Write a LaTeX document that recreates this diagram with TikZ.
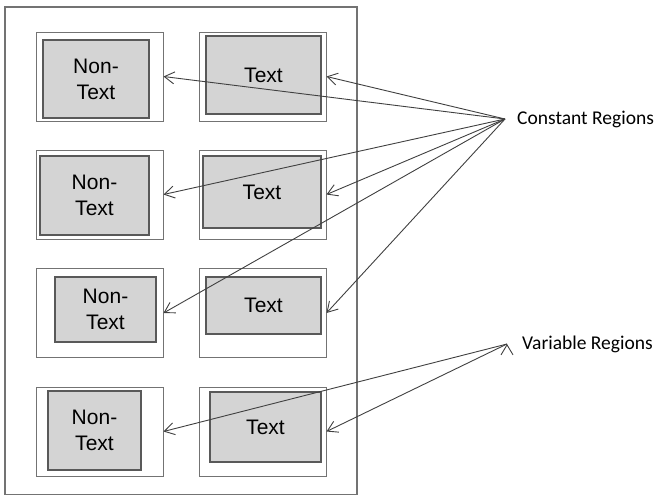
\documentclass[tikz,border=0pt]{standalone}
\usepackage{fontspec}
\setmainfont{Liberation Sans}
\newfontfamily\calib{Carlito}
\usetikzlibrary{arrows.meta, positioning}

\begin{document}
\begin{tikzpicture}[x=1pt, y=-1pt,
    >={Straight Barb[length=10pt,width=12pt]},
    frame/.style={draw=black!55, line width=1pt, minimum width=127pt, minimum height=89pt, inner sep=0pt},
    region/.style={draw=black!65, line width=1.6pt, fill=black!17, inner sep=0pt, align=center, font=\fontsize{21}{26}\selectfont},
    lbl/.style={anchor=west, inner sep=0pt, font=\calib\fontsize{19.5}{23}\selectfont, text=black},
    pointer/.style={->, draw=black!75, line width=0.9pt}]
      \useasboundingbox (0,0) rectangle (662,496);
      \draw[draw=black!55, line width=1.2pt] (5,7) rectangle (357,494.5);

      % frames
      \node[frame] (ntf1) at (99.5,76.5) {};
      \node[frame] (txf1) at (262.5,76.5) {};
      \node[frame] (ntf2) at (99.5,194.5) {};
      \node[frame] (txf2) at (262.5,194.5) {};
      \node[frame] (ntf3) at (99.5,313) {};
      \node[frame] (txf3) at (262.5,313) {};
      \node[frame] (ntf4) at (99.5,431.5) {};
      \node[frame] (txf4) at (262.5,431.5) {};

      % regions
      \node[region, minimum width=106pt, minimum height=78pt] (nt1) at (96,79) {Non-\\Text};
      \node[region, minimum width=115pt, minimum height=78pt] (tx1) at (263.5,75) {Text};
      \node[region, minimum width=109pt, minimum height=79pt] (nt2) at (94.5,195.5) {Non-\\Text};
      \node[region, minimum width=118pt, minimum height=72pt] (tx2) at (262,192) {Text};
      \node[region, minimum width=101pt, minimum height=65pt] (nt3) at (105.5,309.5) {Non-\\Text};
      \node[region, minimum width=115pt, minimum height=57pt] (tx3) at (263.5,305.5) {Text};
      \node[region, minimum width=93pt, minimum height=79pt] (nt4) at (94.5,430.5) {Non-\\Text};
      \node[region, minimum width=111pt, minimum height=70pt] (tx4) at (265.5,427) {Text};

      % labels
      \coordinate (cfan) at (505,119);
      \node[lbl, right=12pt of cfan] (const) {Constant Regions};
      \coordinate (vfan) at (507,344);
      \node[lbl, right=15pt of vfan] (var) {Variable Regions};

      \path[pointer]
        (cfan) edge (ntf1.east)
        (cfan) edge (txf1.east)
        (cfan) edge (ntf2.east)
        (cfan) edge (txf2.east)
        (cfan) edge (ntf3.east)
        (cfan) edge (txf3.east)
        (vfan) edge (ntf4.east)
        (vfan) edge (txf4.east);
\end{tikzpicture}
\end{document}
